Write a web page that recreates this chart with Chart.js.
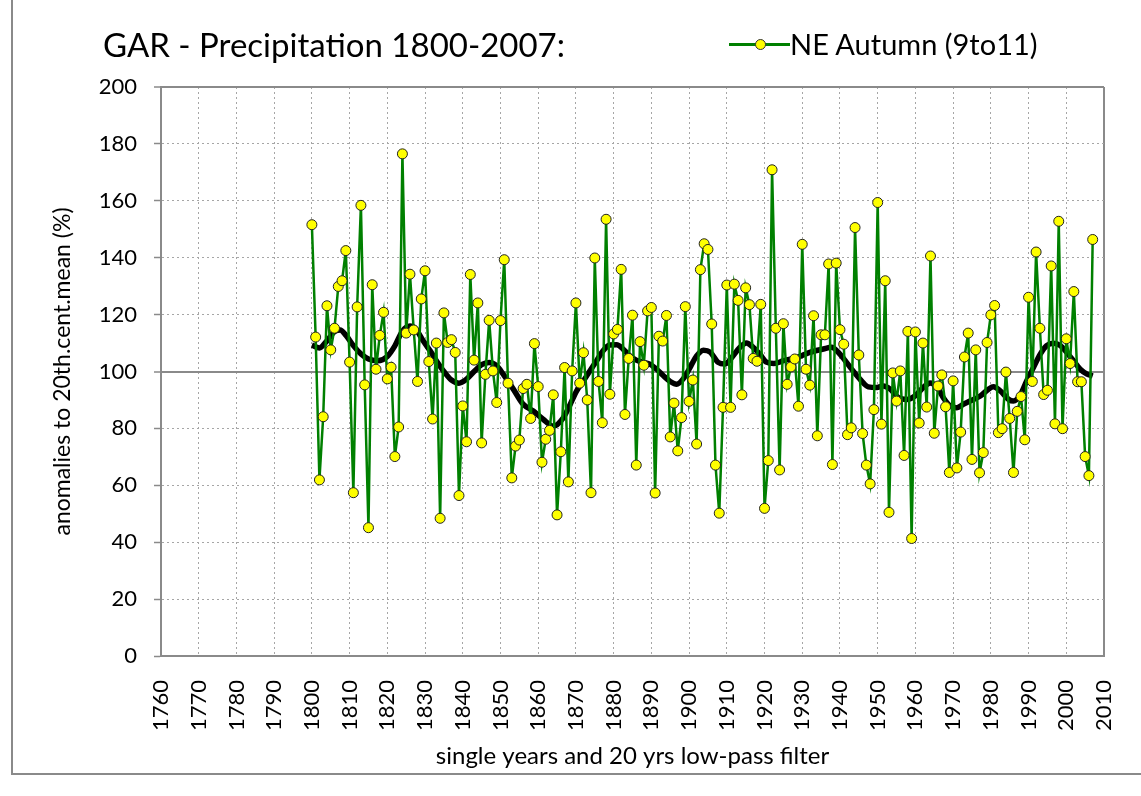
<!DOCTYPE html>
<html>
<head>
<meta charset="utf-8">
<script src="https://cdn.jsdelivr.net/npm/chart.js@4.4.0/dist/chart.umd.min.js"></script>
<style>
  html, body { margin: 0; padding: 0; background: #fff; }
  #wrap { position: relative; width: 1141px; height: 796px; overflow: hidden; font-family: Lato, sans-serif; color: #000; }
  #frame { position: absolute; left: 11px; top: -10px; width: 1200px; height: 783px; border-left: 2px solid #8a8a8a; border-bottom: 2px solid #8a8a8a; }
  #title { position: absolute; left: 103px; top: 25px; font-size: 33px; line-height: 38px; white-space: nowrap; }
  #legend { position: absolute; left: 729px; top: 26px; font-size: 29px; line-height: 36px; white-space: nowrap; }
  .key { display: inline-block; position: relative; width: 61px; height: 36px; vertical-align: top; }
  .key .ln { position: absolute; left: 0; right: 0; top: 17px; height: 3px; background: #008000; }
  .key .dot { position: absolute; left: 26px; top: 13px; width: 9px; height: 9px; border-radius: 50%; background: #ffff00; border: 1px solid #333; }
  canvas { position: absolute; left: 0; top: 0; }
</style>
</head>
<body>
<div id="wrap">
  <div id="frame"></div>
  <canvas id="myChart" width="1141" height="796" style="width:1141px;height:796px"></canvas>
  <div id="title">GAR - Precipitation 1800-2007:</div>
  <div id="legend"><span class="key"><span class="ln"></span><span class="dot"></span></span>NE Autumn (9to11)</div>
</div>
<script>
// single years, 1800..2007
var firstYear = 1800;
var autumnValues = [
  151.6, 112.1, 61.9, 84.1, 123.1, 107.6, 115.2, 129.9, 131.9, 142.5,
  103.3, 57.4, 122.7, 158.4, 95.3, 45.1, 130.5, 100.8, 112.7, 120.8,
  97.4, 101.5, 70.1, 80.5, 176.5, 113.5, 134.2, 114.6, 96.5, 125.5,
  135.4, 103.5, 83.3, 110, 48.4, 120.6, 110.2, 111.2, 106.7, 56.4,
  87.9, 75.3, 134.1, 104, 124.1, 74.9, 99, 118, 100.2, 89.1,
  117.9, 139.3, 95.9, 62.6, 73.8, 75.9, 94, 95.5, 83.5, 109.8,
  94.7, 68.1, 76.2, 79.3, 91.8, 49.6, 71.8, 101.4, 61.2, 100.2,
  124.1, 95.9, 106.6, 90, 57.4, 139.9, 96.5, 82, 153.5, 92,
  113.2, 114.8, 135.9, 84.9, 104.6, 119.8, 67.1, 110.5, 102.2, 121.3,
  122.5, 57.3, 112.4, 110.7, 119.7, 77, 88.9, 72.1, 83.8, 122.8,
  89.5, 97, 74.5, 135.8, 144.9, 142.9, 116.7, 67.1, 50.2, 87.4,
  130.4, 87.4, 130.7, 125, 91.8, 129.4, 123.5, 104.6, 103.6, 123.6,
  51.9, 68.7, 170.9, 115.2, 65.4, 116.8, 95.5, 101.6, 104.4, 87.8,
  144.7, 100.8, 95.2, 119.6, 77.4, 112.9, 112.9, 137.8, 67.3, 138.1,
  114.7, 109.6, 77.8, 80.2, 150.6, 105.8, 78.2, 67.1, 60.5, 86.6,
  159.4, 81.5, 131.9, 50.5, 99.5, 89.6, 100.2, 70.5, 114.1, 41.3,
  113.9, 81.9, 110, 87.5, 140.6, 78.3, 94.9, 98.8, 87.6, 64.5,
  96.7, 66.1, 78.7, 105.1, 113.5, 69.1, 107.6, 64.4, 71.5, 110.2,
  119.9, 123.2, 78.5, 79.9, 99.8, 83.5, 64.5, 86, 91.2, 76,
  126.1, 96.5, 142, 115.2, 91.9, 93.4, 137.1, 81.6, 152.8, 79.9,
  111.5, 102.8, 128.1, 96.4, 96.4, 70.1, 63.4, 146.4
];

// 20 yrs low-pass filter
var smoothYears = [
  1800, 1802, 1804, 1806, 1807.5, 1809, 1811, 1813, 1815, 1817.5,
  1820, 1822, 1824, 1826, 1827.5, 1829.5, 1831.5, 1833, 1835, 1837,
  1839, 1841, 1843, 1845, 1847, 1849, 1850.7, 1853.4, 1856, 1858.7,
  1861.3, 1864, 1866.7, 1868.5, 1870.2, 1872, 1873.7, 1875.5, 1877.2, 1879,
  1880.8, 1882.5, 1884.3, 1886, 1888, 1889.6, 1891.4, 1893.2, 1895, 1896.7,
  1898.5, 1900.5, 1902, 1903.8, 1905.6, 1907.7, 1909.5, 1911.3, 1913.5, 1915.2,
  1917, 1918.8, 1920.5, 1922.5, 1925, 1928.5, 1932, 1935.6, 1937.8, 1939.6,
  1941.4, 1943, 1945.3, 1947.5, 1949.8, 1951.5, 1953.3, 1955.5, 1957.7, 1959.9,
  1962.1, 1963.9, 1965.7, 1967.4, 1969.2, 1971, 1972.7, 1974.5, 1977.2, 1979.4,
  1980.7, 1982.5, 1984.7, 1986, 1987.9, 1989.5, 1991.3, 1993.1, 1994.8, 1996.6,
  1998.4, 2000.1, 2001.9, 2003.7, 2005.5, 2007
];
var smoothValues = [
  109.3, 108.3, 110.8, 114, 114.6, 112.8, 109.1, 106.2, 104.4, 103.8,
  105.3, 109, 114.2, 116, 115, 110.8, 107, 103.8, 100, 97,
  95.9, 97.3, 100, 102.4, 103.2, 102, 99.1, 93.8, 88.5, 86.1,
  83.2, 80.8, 83.8, 88.5, 93.2, 96.7, 100.2, 103.8, 107.3, 109.3,
  109.4, 107.9, 105.5, 104, 103.2, 102.6, 100.8, 98.5, 96.5, 95.5,
  97.5, 102, 105.5, 107.5, 106.8, 103.2, 102.6, 104.9, 108.5, 110,
  108.5, 106, 103.3, 102.8, 103.8, 104.9, 106.7, 107.9, 108.5, 106.7,
  103.8, 101, 97.3, 94.6, 94.4, 94.9, 93.8, 90.8, 90.2, 91.4,
  94.4, 96, 94.7, 90.8, 87.9, 87.3, 88.5, 89.6, 91.4, 93.8,
  94.6, 93.2, 90.2, 89.6, 92, 96.7, 101.4, 106.1, 109.1, 109.9,
  109.1, 106.7, 103.8, 100.8, 99.1, 98.4
];

// axes
var xMin = 1760, xMax = 2010, xStep = 10;
var yMin = 0, yMax = 200, yStep = 10, yLabelStep = 20;

var axisGrey = '#8a8a8a';
var gridGrey = '#a6a6a6';
var tickFont = { family: 'Lato', size: 22 };

function buildSingle() {
  var pts = [];
  autumnValues.forEach(function (v, i) {
    pts.push({ x: firstYear + i, y: v });
  });
  return pts;
}

function buildSmooth() {
  return smoothYears.map(function (yr, i) {
    return { x: yr, y: smoothValues[i] };
  });
}

var chart = new Chart(document.getElementById('myChart'), {
  type: 'line',
  data: {
    datasets: [
      {
        label: 'NE Autumn (9to11)',
        data: buildSingle(),
        borderColor: '#008000',
        borderWidth: 2.5,
        pointRadius: 5,
        pointBackgroundColor: '#ffff00',
        pointBorderColor: '#222',
        pointBorderWidth: 1,
        tension: 0
      },
      {
        label: '20 yrs low-pass filter',
        data: buildSmooth(),
        borderColor: '#000',
        borderWidth: 5.5,
        pointRadius: 0,
        tension: 0.4,
        cubicInterpolationMode: 'monotone'
      }
    ]
  },
  options: {
    responsive: false,
    animation: false,
    layout: { padding: { left: 12, right: 37, top: 87, bottom: 0 } },
    plugins: {
      legend: { display: false },
      title: { display: false },
      tooltip: { enabled: false }
    },
    scales: {
      x: {
        type: 'linear',
        min: xMin,
        max: xMax,
        ticks: {
          stepSize: xStep,
          autoSkip: false,
          maxRotation: 90,
          minRotation: 90,
          padding: 24,
          color: '#000',
          font: tickFont,
          callback: function (v) { return String(v); }
        },
        grid: {
          drawTicks: false,
          color: function (ctx) { return ctx.tick && ctx.tick.value === xMax ? axisGrey : gridGrey; },
          lineWidth: function (ctx) { return ctx.tick && ctx.tick.value === xMax ? 2 : 1; }
        },
        border: {
          color: axisGrey,
          width: 2,
          dash: function (ctx) { return ctx.tick && ctx.tick.value === xMax ? [] : [2, 3]; }
        },
        title: {
          display: true,
          text: 'single years and 20 yrs low-pass filter',
          color: '#000',
          font: { family: 'Lato', size: 24 },
          padding: { top: 0, bottom: 25 }
        },
        afterFit: function (scale) {
          scale.height = 140;
          scale.paddingLeft = 0;
          scale.paddingRight = 0;
        }
      },
      y: {
        min: yMin,
        max: yMax,
        ticks: {
          stepSize: yStep,
          padding: 17,
          color: '#000',
          font: tickFont,
          callback: function (v) { return v % yLabelStep === 0 ? String(v) : ''; }
        },
        grid: {
          tickLength: 7,
          tickColor: axisGrey,
          tickWidth: 1.5,
          tickBorderDash: [],
          color: function (ctx) {
            var v = ctx.tick ? ctx.tick.value : 0;
            if (v % yLabelStep !== 0) return 'rgba(0,0,0,0)';
            if (v === 100 || v === yMax) return axisGrey;
            return gridGrey;
          },
          lineWidth: function (ctx) {
            var v = ctx.tick ? ctx.tick.value : 0;
            return (v === 100 || v === yMax) ? 2 : 1;
          }
        },
        border: {
          color: axisGrey,
          width: 2,
          dash: function (ctx) {
            var v = ctx.tick ? ctx.tick.value : 0;
            return (v === 100 || v === yMax) ? [] : [2, 3];
          }
        },
        title: {
          display: true,
          text: 'anomalies to 20th.cent.mean (%)',
          color: '#000',
          font: { family: 'Lato', size: 23 },
          padding: { top: 37, bottom: 0 }
        },
        afterFit: function (scale) {
          scale.width = 149;
          scale.paddingTop = 0;
          scale.paddingBottom = 0;
        }
      }
    }
  }
});
</script>
</body>
</html>
